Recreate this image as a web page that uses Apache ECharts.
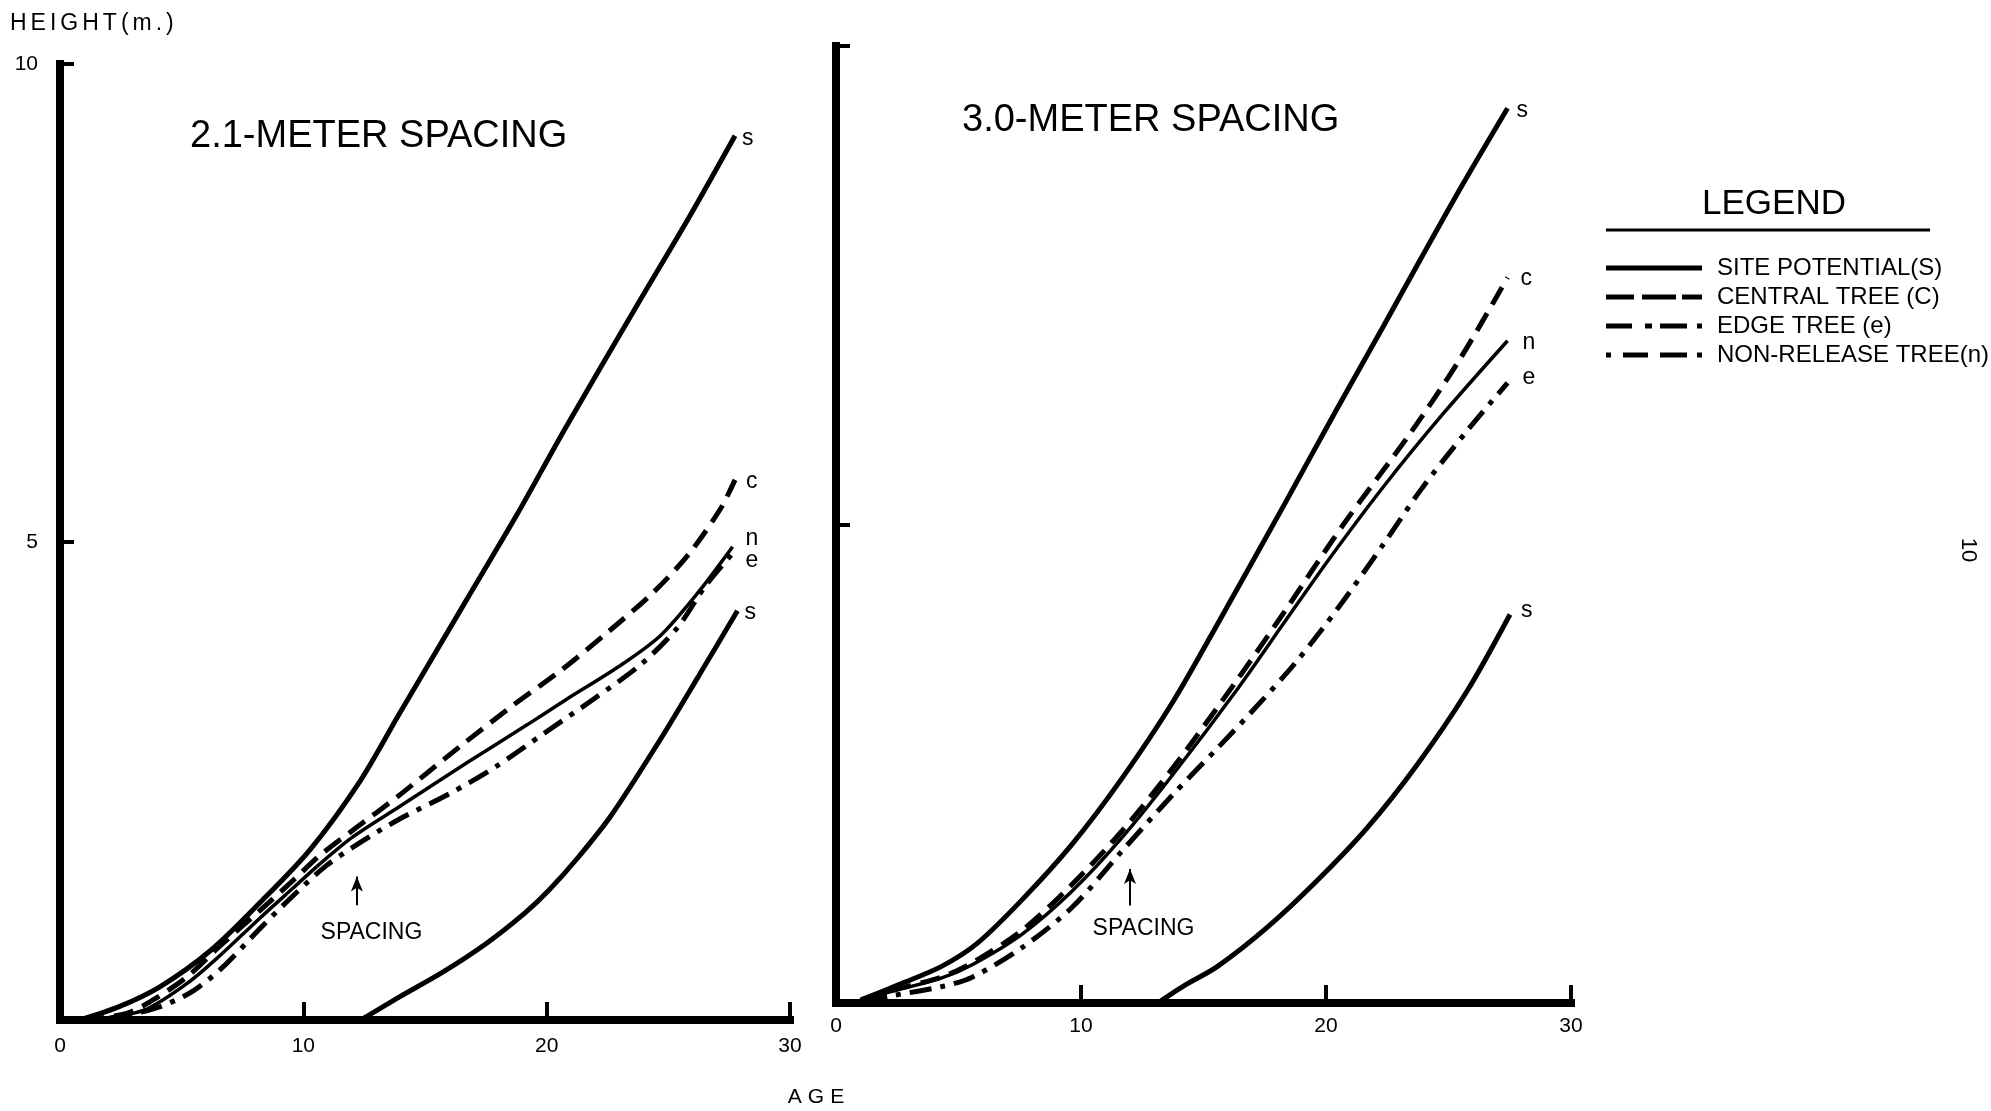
<!DOCTYPE html>
<html>
<head>
<meta charset="utf-8">
<title>Height growth by spacing</title>
<script src="https://cdn.jsdelivr.net/npm/echarts@6/dist/echarts.min.js"></script>
<style>
  html, body { margin: 0; padding: 0; background: #fff; }
  #chart { width: 1991px; height: 1111px; }
</style>
</head>
<body>
<div id="chart"></div>
<script>
// ---- axes ----
const ageTicks = [0, 10, 20, 30];
const heightTicks = [0, 5, 10];
const panelTitles = ['2.1-METER SPACING', '3.0-METER SPACING'];
const legendNames = ['SITE POTENTIAL(S)', 'CENTRAL TREE (C)', 'EDGE TREE (e)', 'NON-RELEASE TREE(n)'];
const curveTags = ['s', 'c', 'e', 'n'];

// ---- 2.1-meter spacing: [age, height m] ----
const siteUpper21 = [[0.8,0],[2.43,0.14],[4.12,0.35],[6.2,0.73],[8.19,1.22],[10.27,1.78],[12.36,2.51],[13.94,3.2],[16.72,4.4],[18.81,5.3],[20.79,6.2],[23.77,7.5],[25.86,8.4],[27.74,9.25]];
const siteLower21 = [[12.36,0],[13.94,0.24],[15.73,0.5],[17.52,0.8],[19.11,1.12],[20.1,1.36],[21.29,1.7],[22.68,2.15],[24.66,2.93],[26.25,3.6],[27.84,4.28]];
const central21 = [[1.0,0],[2.73,0.07],[3.82,0.21],[5.21,0.45],[6.6,0.78],[8.19,1.14],[9.58,1.46],[10.67,1.72],[12.06,1.99],[13.94,2.35],[16.43,2.86],[18.61,3.29],[20.6,3.66],[22.48,4.05],[24.37,4.47],[25.86,4.88],[27.15,5.35],[27.74,5.65]];
const nonRelease21 = [[1.2,0],[3.42,0.1],[5.21,0.38],[6.6,0.68],[8.19,1.06],[9.58,1.38],[10.67,1.63],[12.06,1.92],[13.94,2.23],[16.72,2.69],[19.21,3.09],[20.79,3.35],[22.98,3.7],[24.67,4.02],[26.25,4.48],[27.64,4.95]];
const edge21 = [[1.5,0],[2.73,0.05],[4.12,0.14],[5.51,0.31],[6.8,0.58],[8.19,0.95],[9.58,1.3],[10.97,1.62],[12.36,1.86],[13.94,2.1],[16.03,2.37],[17.91,2.65],[19.9,3.0],[21.89,3.35],[23.87,3.72],[25.36,4.1],[26.55,4.55],[27.64,4.88]];

// ---- 3.0-meter spacing: [age, height m] ----
const siteUpper30 = [[1.0,0.03],[2.64,0.2],[4.29,0.38],[5.75,0.62],[7.6,1.08],[9.64,1.66],[11.68,2.35],[13.76,3.15],[15.66,4.0],[18.28,5.2],[20.32,6.15],[22.36,7.08],[23.92,7.8],[25.57,8.55],[27.41,9.35]];
const siteLower30 = [[13.13,0],[14.2,0.18],[15.56,0.38],[17.6,0.79],[19.64,1.28],[21.68,1.83],[23.72,2.49],[25.76,3.26],[27.51,4.06]];
const central30 = [[1.1,0.04],[2.25,0.13],[4.29,0.27],[5.56,0.42],[7.6,0.76],[9.64,1.24],[11.68,1.8],[13.76,2.46],[16.44,3.4],[18.28,4.08],[20.71,5.0],[23.43,5.95],[25.47,6.73],[27.41,7.58]];
const nonRelease30 = [[1.1,0.04],[2.25,0.12],[4.29,0.26],[5.56,0.4],[7.6,0.72],[9.64,1.17],[11.68,1.73],[13.76,2.39],[16.44,3.3],[18.28,3.97],[20.13,4.64],[22.36,5.4],[24.79,6.16],[27.41,6.92]];
const edge30 = [[1.2,0.03],[2.35,0.08],[4.29,0.17],[5.56,0.27],[7.6,0.58],[9.64,1.0],[11.68,1.59],[13.76,2.18],[15.56,2.66],[16.92,3.03],[18.77,3.56],[20.56,4.15],[22.36,4.8],[23.92,5.38],[25.76,5.98],[27.41,6.48]];

const FONT = '"Liberation Sans", Arial, sans-serif';
const INK = '#000';

// stroke patterns for the four curve kinds
const strokeSite = { width: 5, type: 'solid' };
const strokeCentral = { width: 5, type: [20, 10] };
const strokeEdge = { width: 5, type: [22, 9, 5, 9] };
const strokeNonRelease = { width: 3.5, type: 'solid' };

// legend samples drawn as bar segments (96 x 5)
function segIcon(segs) {
  return 'path://' + segs.map(s => `M${s[0]},0H${s[1]}V5H${s[0]}Z`).join('');
}
const legendIcons = [
  segIcon([[0, 96]]),
  segIcon([[0, 28], [36, 70], [76, 96]]),
  segIcon([[0, 26], [39, 46], [54, 81], [91, 96]]),
  segIcon([[0, 5], [17, 42], [54, 81], [91, 96]])
];

// widely tracked lettering as rich text, one token per character
function tracked(str) {
  return str.split('').map(ch => '{k|' + ch + '}').join('');
}
function trackedStyle(size, gap) {
  return { k: { fontSize: size, fontFamily: FONT, fill: INK, color: INK, padding: [0, gap, 0, gap] } };
}

function curve(name, data, idx, stroke, tag, offset, extra) {
  return Object.assign({
    type: 'line', name, data,
    xAxisIndex: idx, yAxisIndex: idx,
    smooth: 0.3, symbol: 'none', silent: true, animation: false,
    lineStyle: { color: INK, width: stroke.width, type: stroke.type, cap: 'butt' },
    endLabel: {
      show: true, formatter: tag, color: INK, fontSize: 23, fontFamily: FONT,
      distance: 7, offset: offset || [0, 0]
    }
  }, extra || {});
}

function spacingNote(arrowFrom, arrowTo, textAt) {
  return {
    markLine: {
      silent: true, animation: false,
      symbol: ['none', 'arrow'], symbolSize: [9, 15],
      lineStyle: { color: INK, width: 2, type: 'solid' },
      itemStyle: { color: INK },
      label: { show: false },
      data: [[{ coord: arrowFrom }, { coord: arrowTo }]]
    },
    markPoint: {
      silent: true, animation: false,
      symbol: 'rect', symbolSize: 1, itemStyle: { color: 'rgba(0,0,0,0)' },
      label: { show: true, position: 'inside', formatter: 'SPACING', color: INK, fontSize: 23, fontFamily: FONT },
      data: [{ coord: textAt }]
    }
  };
}

function xAxisFor(idx) {
  return {
    type: 'value', gridIndex: idx, min: ageTicks[0], max: ageTicks[ageTicks.length - 1], interval: 10,
    axisLine: { show: true, onZero: false, lineStyle: { color: INK, width: 8, cap: 'square' } },
    axisTick: { show: true, inside: true, length: 18, lineStyle: { color: INK, width: 4 } },
    axisLabel: { show: true, color: INK, fontSize: 21, fontFamily: FONT, margin: idx === 0 ? 16 : 13,
                 showMinLabel: true, showMaxLabel: true },
    splitLine: { show: false }
  };
}
function yAxisFor(idx) {
  return {
    type: 'value', gridIndex: idx, min: heightTicks[0], max: heightTicks[heightTicks.length - 1], interval: 5,
    axisLine: { show: true, onZero: false, lineStyle: { color: INK, width: 8, cap: 'square' } },
    axisTick: { show: true, inside: true, length: 14, lineStyle: { color: INK, width: 4 } },
    axisLabel: { show: idx === 0, color: INK, fontSize: 21, fontFamily: FONT, margin: 22,
                 showMinLabel: true, showMaxLabel: true,
                 formatter: v => (v === 0 ? '' : String(v)) },
    splitLine: { show: false }
  };
}

const chart = echarts.init(document.getElementById('chart'), null, { renderer: 'canvas' });

chart.setOption({
  backgroundColor: '#fff',
  animation: false,
  grid: [
    { left: 60, top: 64, width: 730, height: 956, containLabel: false, outerBoundsMode: 'none' },
    { left: 836, top: 46, width: 735, height: 957, containLabel: false, outerBoundsMode: 'none' }
  ],
  xAxis: [xAxisFor(0), xAxisFor(1)],
  yAxis: [yAxisFor(0), yAxisFor(1)],
  legend: {
    orient: 'vertical', left: 1606, top: 253.5, padding: 0, itemGap: 0,
    itemWidth: 96, itemHeight: 5, selectedMode: false,
    textStyle: { color: INK, fontSize: 24, fontFamily: FONT, lineHeight: 29, padding: [0, 0, 0, 10] },
    itemStyle: { color: INK, borderWidth: 0 },
    data: legendNames.map((n, i) => ({ name: n, icon: legendIcons[i] }))
  },
  series: [
    // 2.1-meter spacing
    curve(legendNames[0], siteUpper21, 0, strokeSite, curveTags[0], [0, 3]),
    curve(legendNames[1], central21, 0, strokeCentral, curveTags[1], [4, 2],
          spacingNote([12.2, 1.2], [12.2, 1.5], [12.8, 0.91])),
    curve(legendNames[3], nonRelease21, 0, strokeNonRelease, curveTags[3], [6, -8]),
    curve(legendNames[2], edge21, 0, strokeEdge, curveTags[2], [6, 7]),
    curve(legendNames[0], siteLower21, 0, strokeSite, curveTags[0], [0, 2]),
    // 3.0-meter spacing
    curve(legendNames[0], siteUpper30, 1, strokeSite, curveTags[0], [2, 2]),
    curve(legendNames[1], central30, 1, strokeCentral, curveTags[1], [6, 1],
          spacingNote([12.0, 1.02], [12.0, 1.4], [12.55, 0.78])),
    curve(legendNames[3], nonRelease30, 1, strokeNonRelease, curveTags[3], [8, 2]),
    curve(legendNames[2], edge30, 1, strokeEdge, curveTags[2], [8, -5]),
    curve(legendNames[0], siteLower30, 1, strokeSite, curveTags[0], [4, -4])
  ],
  graphic: [
    { type: 'text', left: 10, top: 12, silent: true,
      style: { text: tracked('HEIGHT(m.)'), rich: trackedStyle(23, 2), fill: INK, font: '23px ' + FONT } },
    { type: 'text', x: 816, y: 1097, silent: true,
      style: { text: tracked('AGE'), rich: trackedStyle(21, 3), fill: INK, font: '21px ' + FONT,
               align: 'center', verticalAlign: 'middle' } },
    { type: 'text', x: 190, y: 137, silent: true,
      style: { text: panelTitles[0], fill: INK, font: '38px ' + FONT, align: 'left', verticalAlign: 'middle' } },
    { type: 'text', x: 962, y: 121, silent: true,
      style: { text: panelTitles[1], fill: INK, font: '38px ' + FONT, align: 'left', verticalAlign: 'middle' } },
    { type: 'text', x: 1774, y: 204, silent: true,
      style: { text: 'LEGEND', fill: INK, font: '35px ' + FONT, align: 'center', verticalAlign: 'middle' } },
    { type: 'line', silent: true, shape: { x1: 1606, y1: 230, x2: 1930, y2: 230 },
      style: { stroke: INK, lineWidth: 3 } },
    { type: 'text', x: 1968, y: 550, rotation: -Math.PI / 2, silent: true,
      style: { text: '10', fill: INK, font: '22px ' + FONT, align: 'center', verticalAlign: 'middle' } }
  ]
});
</script>
</body>
</html>
